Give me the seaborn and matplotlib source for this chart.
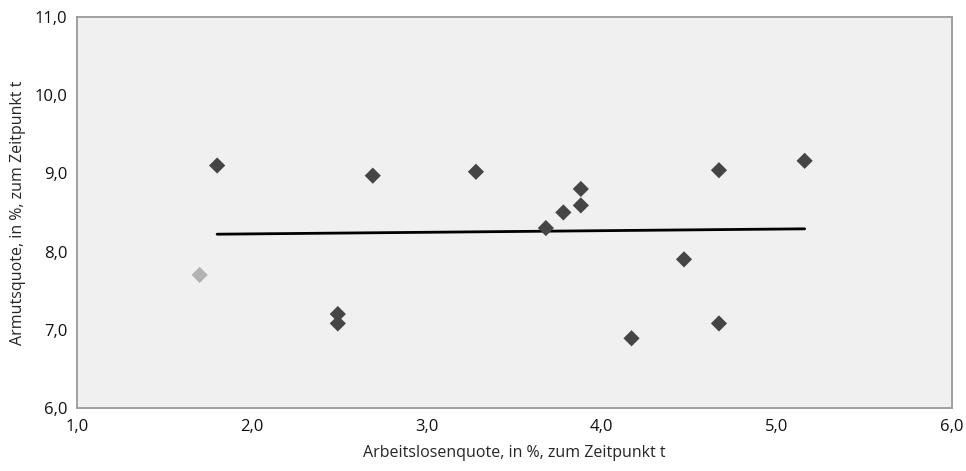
import numpy as np
import pandas as pd
import matplotlib
matplotlib.use("Agg")
import matplotlib.pyplot as plt
import seaborn as sns
from matplotlib.ticker import FuncFormatter

# Arbeitslosenquote (x) und Armutsquote (y), zum Zeitpunkt t
arbeitslosenquote = [1.8, 2.49, 2.49, 2.69, 3.28, 3.68, 3.78, 3.88, 3.88, 4.17, 4.47, 4.67, 4.67, 5.16]
armutsquote = [9.1, 7.2, 7.08, 8.97, 9.02, 8.3, 8.5, 8.8, 8.59, 6.89, 7.9, 9.04, 7.08, 9.16]

# separat hervorgehobener Punkt (hellgrau, nicht in der Trendlinie)
extra_x = [1.7]
extra_y = [7.7]

x_ticks = [1.0, 2.0, 3.0, 4.0, 5.0, 6.0]
y_ticks = [6.0, 7.0, 8.0, 9.0, 10.0, 11.0]

df = pd.DataFrame({"x": arbeitslosenquote, "y": armutsquote})
df_extra = pd.DataFrame({"x": extra_x, "y": extra_y})

sns.set_style("white")
plt.rcParams["font.family"] = ["Open Sans", "DejaVu Sans"]

fig, ax = plt.subplots(figsize=(9.66, 4.71), dpi=100)
fig.subplots_adjust(left=0.08, right=0.985, top=0.964, bottom=0.134)
ax.set_facecolor("#f0f0f0")

# Trendlinie über die dunklen Punkte
sns.regplot(data=df, x="x", y="y", ax=ax, ci=None, truncate=True, scatter=False,
            line_kws={"color": "black", "lw": 2})

sns.scatterplot(data=df, x="x", y="y", ax=ax, marker="D", s=68, color="#454545",
                edgecolor="none", zorder=3)
sns.scatterplot(data=df_extra, x="x", y="y", ax=ax, marker="D", s=68, color="#b3b3b3",
                edgecolor="none", zorder=3)

ax.set_xlim(1, 6)
ax.set_ylim(6, 11)
ax.set_xticks(x_ticks)
ax.set_yticks(y_ticks)
fmt = FuncFormatter(lambda v, p: f"{v:.1f}".replace(".", ","))
ax.xaxis.set_major_formatter(fmt)
ax.yaxis.set_major_formatter(fmt)

for sp in ax.spines.values():
    sp.set_color("#a0a0a0")
    sp.set_linewidth(1.4)

ax.tick_params(axis="both", which="major", direction="out", length=4, width=1,
               color="#a0a0a0", labelsize=12, labelcolor="#111111")
ax.tick_params(axis="x", pad=4)
ax.tick_params(axis="y", pad=3)

ax.set_xlabel("Arbeitslosenquote, in %, zum Zeitpunkt t", fontsize=11.5, labelpad=7)
ax.set_ylabel("Armutsquote, in %, zum Zeitpunkt t", fontsize=11.5, labelpad=6)

fig.savefig("out.png", dpi=100, facecolor="white")
